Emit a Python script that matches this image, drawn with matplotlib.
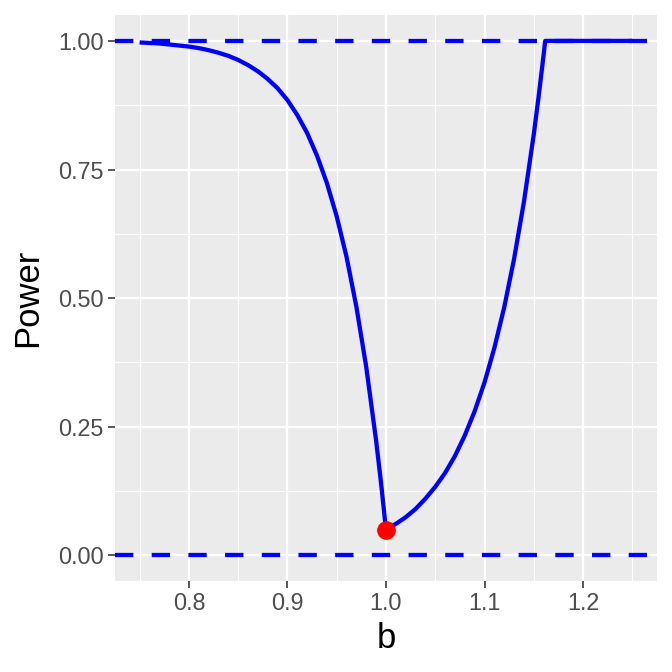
import matplotlib
matplotlib.use("Agg")
import matplotlib.pyplot as plt
from matplotlib.ticker import MultipleLocator

plt.rcParams['font.family'] = ['Liberation Sans', 'DejaVu Sans']

# power curve (b < 1 branch, then b > 1 branch)
b = [0.75, 0.76, 0.77, 0.78, 0.79, 0.80, 0.81, 0.82, 0.83, 0.84,
     0.85, 0.86, 0.87, 0.88, 0.89, 0.90, 0.91, 0.92, 0.93, 0.94,
     0.95, 0.96, 0.97, 0.98, 0.99, 0.995, 1.0,
     1.01, 1.02, 1.03, 1.04, 1.05, 1.06, 1.07, 1.08, 1.09, 1.10,
     1.11, 1.12, 1.13, 1.14, 1.15, 1.155, 1.16, 1.1616, 1.25]
power = [0.997, 0.996, 0.995, 0.993, 0.991, 0.989, 0.986, 0.982, 0.977, 0.971,
         0.963, 0.953, 0.941, 0.926, 0.908, 0.885, 0.856, 0.821, 0.777, 0.724,
         0.659, 0.580, 0.483, 0.366, 0.223, 0.141, 0.05,
         0.061, 0.074, 0.090, 0.110, 0.133, 0.160, 0.193, 0.233, 0.280, 0.336,
         0.403, 0.482, 0.576, 0.687, 0.818, 0.893, 0.973, 1.0, 1.0]
b0 = 1.0
alpha = 0.05
bounds = [0.0, 1.0]

fig = plt.figure(figsize=(7, 7), dpi=96)
ax = fig.add_axes([0.1711, 0.1354, 0.8065, 0.842])
ax.set_facecolor('#EBEBEB')

for h in bounds:
    ax.axhline(h, color='blue', lw=3.2, linestyle=(0, (4.3, 4.3)), zorder=3)
ax.plot(b, power, color='blue', lw=3.2, solid_capstyle='butt',
        solid_joinstyle='round', zorder=4)
ax.plot([b0], [alpha], 'o', color='red', markersize=13, zorder=5)

ax.set_xlim(0.725, 1.275)
ax.set_ylim(-0.05, 1.05)
ax.xaxis.set_major_locator(MultipleLocator(0.1))
ax.xaxis.set_minor_locator(MultipleLocator(0.05))
ax.yaxis.set_major_locator(MultipleLocator(0.25))
ax.yaxis.set_minor_locator(MultipleLocator(0.125))
ax.xaxis.set_major_formatter(plt.FuncFormatter(lambda v, p: f"{v:.1f}"))
ax.yaxis.set_major_formatter(plt.FuncFormatter(lambda v, p: f"{v:.2f}"))

ax.grid(which='major', color='white', lw=1.7)
ax.grid(which='minor', color='white', lw=0.85)
ax.set_axisbelow(True)
for s in ax.spines.values():
    s.set_visible(False)

ax.tick_params(which='major', length=5.5, width=1.2, color='#333333',
               labelsize=17.5, labelcolor='#4D4D4D', pad=3)
ax.tick_params(which='minor', length=0)

ax.set_xlabel('b', fontsize=26, labelpad=5)
ax.set_ylabel('Power', fontsize=26, labelpad=10)

fig.savefig('out.png', dpi=96)
